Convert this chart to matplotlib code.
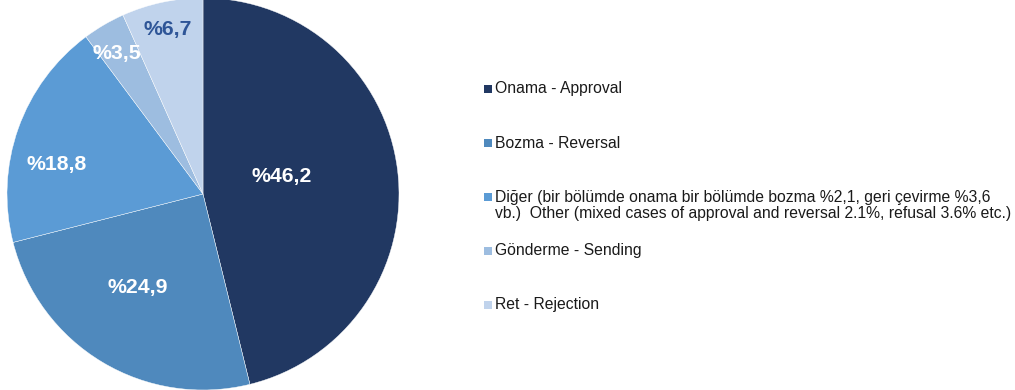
import numpy as np
import matplotlib
matplotlib.use("Agg")
import matplotlib.pyplot as plt
from matplotlib.patches import Rectangle

plt.rcParams['font.family'] = ['Liberation Sans', 'DejaVu Sans']

categories = [
    "Onama - Approval",
    "Bozma - Reversal",
    "Diğer (bir bölümde onama bir bölümde bozma %2,1, geri çevirme %3,6\n"
    "vb.)  Other (mixed cases of approval and reversal 2.1%, refusal 3.6% etc.)",
    "Gönderme - Sending",
    "Ret - Rejection",
]
values = [46.2, 24.9, 18.8, 3.5, 6.7]
value_labels = ["%46,2", "%24,9", "%18,8", "%3,5", "%6,7"]

colors = ["#213862", "#4F89BD", "#5B9BD5", "#9DBDE0", "#C0D3EC"]
label_colors = ["white", "white", "white", "white", "#2E5597"]
label_dist = [0.41, 0.58, 0.76, 0.84, 0.86]
angle_shift = [6, -4, 8, 1, 0]  # small nudges, degrees

px = 1 / 100
fig = plt.figure(figsize=(1015 * px, 390 * px), dpi=100)

# pie axes: centre (203, 196 from bottom), radius 196 px
r_px = 196
ax = fig.add_axes([(203 - r_px) / 1015, (196 - r_px) / 390, 2 * r_px / 1015, 2 * r_px / 390])
wedges, _ = ax.pie(values, colors=colors, startangle=90, counterclock=False,
                   radius=1, wedgeprops=dict(edgecolor='white', linewidth=0.3))
ax.set_xlim(-1, 1)
ax.set_ylim(-1, 1)
ax.set_aspect('equal')
ax.axis('off')

for w, lab, c, d, s in zip(wedges, value_labels, label_colors, label_dist, angle_shift):
    mid = np.deg2rad((w.theta1 + w.theta2) / 2 + s)
    ax.text(d * np.cos(mid), d * np.sin(mid), lab, color=c, fontsize=15.3,
            fontweight='bold', ha='center', va='center')

# legend drawn by hand to keep Excel-like even row spacing
row0 = 89
row_gap = 54
for i, (cat, col) in enumerate(zip(categories, colors)):
    yc = row0 + i * row_gap
    fig.add_artist(Rectangle((484 / 1015, (390 - yc - 4) / 390), 8 / 1015, 8 / 390,
                             transform=fig.transFigure, facecolor=col, edgecolor='none'))
    fig.text(495 / 1015, (390 - yc + 7.5) / 390, cat, fontsize=11.3, color='#1a1a1a',
             ha='left', va='top', linespacing=1.16)

fig.savefig("out.png", dpi=100)
